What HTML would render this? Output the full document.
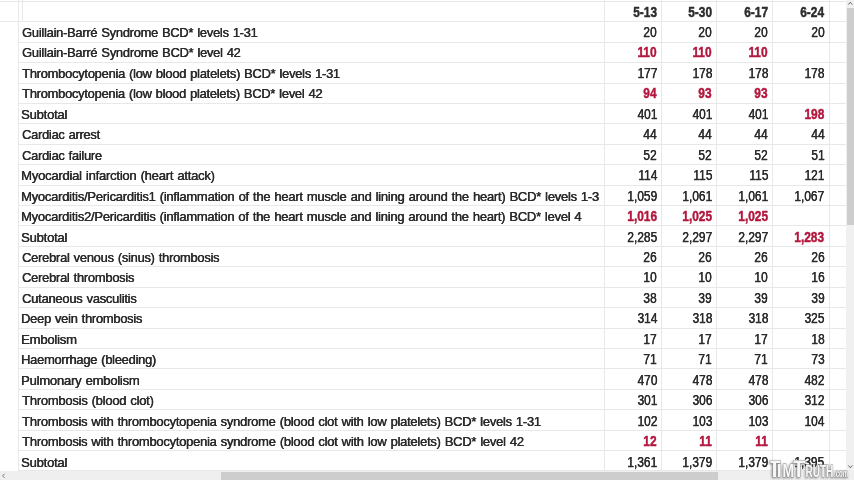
<!DOCTYPE html>
<html><head><meta charset="utf-8"><style>
html,body{margin:0;padding:0;width:854px;height:480px;overflow:hidden;background:#fff;}
body{position:relative;font-family:"Liberation Sans",sans-serif;font-size:14px;color:#2b2b2b;}
.h{position:absolute;left:0;width:854px;height:1px;background:#e8e8e8;}
.v{position:absolute;top:0;height:471px;width:1px;background:#e8e8e8;}
.t,.n{position:absolute;white-space:nowrap;line-height:15px;}
.t{font-size:13px;letter-spacing:-0.26px;word-spacing:0.75px;-webkit-text-stroke:0.2px currentColor;text-shadow:0.3px 0 0 currentColor;}
.n{font-size:14px;-webkit-text-stroke:0.25px currentColor;text-shadow:0.25px 0 0 currentColor;}
.t{transform-origin:0 0;}
.n{transform-origin:100% 0;transform:scaleX(0.85);}
.b{font-weight:bold;-webkit-text-stroke:0.45px currentColor !important;text-shadow:none !important;}
.red{color:#b3173e;}
.vs{position:absolute;left:846px;top:0;width:8px;height:471px;background:#f0f0f0;}
.vt{position:absolute;left:847px;top:8px;width:7px;height:217px;background:#cdcdcd;}
.hs{position:absolute;left:0;top:471px;width:854px;height:9px;background:#efefef;}
.ht{position:absolute;left:221px;top:472px;width:497px;height:8px;background:#cdcdcd;}
.wm{position:absolute;left:770px;top:459px;font-family:"Liberation Sans",sans-serif;font-weight:bold;color:#fff;white-space:nowrap;
 text-shadow:-1px 1px 1px #888, 1px 0 1px #999, 0 -1px 1px #bbb;line-height:20px;}
.arr{position:absolute;font-size:8px;color:#777;line-height:8px;}
</style></head><body>
<div class="h" style="top:1px;background:#e6e6e6;height:1px"></div><div class="h" style="top:21px"></div><div class="h" style="top:42px;left:18px"></div><div class="h" style="top:62px;left:18px"></div><div class="h" style="top:83px;left:18px"></div><div class="h" style="top:103px;left:18px"></div><div class="h" style="top:123px;left:18px"></div><div class="h" style="top:144px;left:18px"></div><div class="h" style="top:164px;left:18px"></div><div class="h" style="top:185px;left:18px"></div><div class="h" style="top:205px;left:18px"></div><div class="h" style="top:225px;left:18px"></div><div class="h" style="top:246px;left:18px"></div><div class="h" style="top:266px;left:18px"></div><div class="h" style="top:287px;left:18px"></div><div class="h" style="top:307px;left:18px"></div><div class="h" style="top:328px;left:18px"></div><div class="h" style="top:348px;left:18px"></div><div class="h" style="top:368px;left:18px"></div><div class="h" style="top:389px;left:18px"></div><div class="h" style="top:409px;left:18px"></div><div class="h" style="top:430px;left:18px"></div><div class="h" style="top:450px;left:18px"></div><div class="h" style="top:470px;left:18px"></div><div class="v" style="left:18px"></div><div class="v" style="left:604px"></div><div class="v" style="left:661px"></div><div class="v" style="left:716px"></div><div class="v" style="left:772px"></div><div class="v" style="left:829px"></div><div class="v" style="left:22px;height:21px"></div><div class="n b" style="right:197.00px;top:4.60px">5-13</div><div class="n b" style="right:142.00px;top:4.60px">5-30</div><div class="n b" style="right:86.00px;top:4.60px">6-17</div><div class="n b" style="right:29.50px;top:4.60px">6-24</div><div class="t" style="left:22.30px;top:24.95px;transform:scaleX(0.9910)">Guillain-Barré Syndrome BCD* levels 1-31</div><div class="n" style="right:197.00px;top:24.95px">20</div><div class="n" style="right:142.00px;top:24.95px">20</div><div class="n" style="right:86.00px;top:24.95px">20</div><div class="n" style="right:29.50px;top:24.95px">20</div><div class="t" style="left:22.30px;top:45.41px;transform:scaleX(0.9919)">Guillain-Barré Syndrome BCD* level 42</div><div class="n b red" style="right:197.00px;top:45.41px">110</div><div class="n b red" style="right:142.00px;top:45.41px">110</div><div class="n b red" style="right:86.00px;top:45.41px">110</div><div class="t" style="left:22.30px;top:65.87px;transform:scaleX(0.9939)">Thrombocytopenia (low blood platelets) BCD* levels 1-31</div><div class="n" style="right:197.00px;top:65.87px">177</div><div class="n" style="right:142.00px;top:65.87px">178</div><div class="n" style="right:86.00px;top:65.87px">178</div><div class="n" style="right:29.50px;top:65.87px">178</div><div class="t" style="left:22.30px;top:86.33px;transform:scaleX(0.9929)">Thrombocytopenia (low blood platelets) BCD* level 42</div><div class="n b red" style="right:197.00px;top:86.33px">94</div><div class="n b red" style="right:142.00px;top:86.33px">93</div><div class="n b red" style="right:86.00px;top:86.33px">93</div><div class="t" style="left:21.29px;top:106.79px;transform:scaleX(1.0078)">Subtotal</div><div class="n" style="right:197.00px;top:106.79px">401</div><div class="n" style="right:142.00px;top:106.79px">401</div><div class="n" style="right:86.00px;top:106.79px">401</div><div class="n b red" style="right:29.50px;top:106.79px">198</div><div class="t" style="left:22.30px;top:127.25px;transform:scaleX(0.9869)">Cardiac arrest</div><div class="n" style="right:197.00px;top:127.25px">44</div><div class="n" style="right:142.00px;top:127.25px">44</div><div class="n" style="right:86.00px;top:127.25px">44</div><div class="n" style="right:29.50px;top:127.25px">44</div><div class="t" style="left:22.30px;top:147.71px;transform:scaleX(0.9883)">Cardiac failure</div><div class="n" style="right:197.00px;top:147.71px">52</div><div class="n" style="right:142.00px;top:147.71px">52</div><div class="n" style="right:86.00px;top:147.71px">52</div><div class="n" style="right:29.50px;top:147.71px">51</div><div class="t" style="left:21.29px;top:168.17px;transform:scaleX(1.0071)">Myocardial infarction (heart attack)</div><div class="n" style="right:197.00px;top:168.17px">114</div><div class="n" style="right:142.00px;top:168.17px">115</div><div class="n" style="right:86.00px;top:168.17px">115</div><div class="n" style="right:29.50px;top:168.17px">121</div><div class="t" style="left:21.30px;top:188.63px;transform:scaleX(1.0008)">Myocarditis/Pericarditis1 (inflammation of the heart muscle and lining around the heart) BCD* levels 1-3</div><div class="n" style="right:197.00px;top:188.63px">1,059</div><div class="n" style="right:142.00px;top:188.63px">1,061</div><div class="n" style="right:86.00px;top:188.63px">1,061</div><div class="n" style="right:29.50px;top:188.63px">1,067</div><div class="t" style="left:21.30px;top:209.09px;transform:scaleX(1.0004)">Myocarditis2/Pericarditis (inflammation of the heart muscle and lining around the heart) BCD* level 4</div><div class="n b red" style="right:197.00px;top:209.09px">1,016</div><div class="n b red" style="right:142.00px;top:209.09px">1,025</div><div class="n b red" style="right:86.00px;top:209.09px">1,025</div><div class="t" style="left:21.29px;top:229.55px;transform:scaleX(1.0078)">Subtotal</div><div class="n" style="right:197.00px;top:229.55px">2,285</div><div class="n" style="right:142.00px;top:229.55px">2,297</div><div class="n" style="right:86.00px;top:229.55px">2,297</div><div class="n b red" style="right:29.50px;top:229.55px">1,283</div><div class="t" style="left:22.30px;top:250.01px;transform:scaleX(0.9930)">Cerebral venous (sinus) thrombosis</div><div class="n" style="right:197.00px;top:250.01px">26</div><div class="n" style="right:142.00px;top:250.01px">26</div><div class="n" style="right:86.00px;top:250.01px">26</div><div class="n" style="right:29.50px;top:250.01px">26</div><div class="t" style="left:22.30px;top:270.47px;transform:scaleX(0.9929)">Cerebral thrombosis</div><div class="n" style="right:197.00px;top:270.47px">10</div><div class="n" style="right:142.00px;top:270.47px">10</div><div class="n" style="right:86.00px;top:270.47px">10</div><div class="n" style="right:29.50px;top:270.47px">16</div><div class="t" style="left:22.30px;top:290.93px;transform:scaleX(0.9965)">Cutaneous vasculitis</div><div class="n" style="right:197.00px;top:290.93px">38</div><div class="n" style="right:142.00px;top:290.93px">39</div><div class="n" style="right:86.00px;top:290.93px">39</div><div class="n" style="right:29.50px;top:290.93px">39</div><div class="t" style="left:21.31px;top:311.39px;transform:scaleX(0.9921)">Deep vein thrombosis</div><div class="n" style="right:197.00px;top:311.39px">314</div><div class="n" style="right:142.00px;top:311.39px">318</div><div class="n" style="right:86.00px;top:311.39px">318</div><div class="n" style="right:29.50px;top:311.39px">325</div><div class="t" style="left:21.29px;top:331.85px;transform:scaleX(1.0111)">Embolism</div><div class="n" style="right:197.00px;top:331.85px">17</div><div class="n" style="right:142.00px;top:331.85px">17</div><div class="n" style="right:86.00px;top:331.85px">17</div><div class="n" style="right:29.50px;top:331.85px">18</div><div class="t" style="left:21.31px;top:352.31px;transform:scaleX(0.9922)">Haemorrhage (bleeding)</div><div class="n" style="right:197.00px;top:352.31px">71</div><div class="n" style="right:142.00px;top:352.31px">71</div><div class="n" style="right:86.00px;top:352.31px">71</div><div class="n" style="right:29.50px;top:352.31px">73</div><div class="t" style="left:21.29px;top:372.77px;transform:scaleX(1.0082)">Pulmonary embolism</div><div class="n" style="right:197.00px;top:372.77px">470</div><div class="n" style="right:142.00px;top:372.77px">478</div><div class="n" style="right:86.00px;top:372.77px">478</div><div class="n" style="right:29.50px;top:372.77px">482</div><div class="t" style="left:22.30px;top:393.23px;transform:scaleX(1.0011)">Thrombosis (blood clot)</div><div class="n" style="right:197.00px;top:393.23px">301</div><div class="n" style="right:142.00px;top:393.23px">306</div><div class="n" style="right:86.00px;top:393.23px">306</div><div class="n" style="right:29.50px;top:393.23px">312</div><div class="t" style="left:22.30px;top:413.69px;transform:scaleX(0.9985)">Thrombosis with thrombocytopenia syndrome (blood clot with low platelets) BCD* levels 1-31</div><div class="n" style="right:197.00px;top:413.69px">102</div><div class="n" style="right:142.00px;top:413.69px">103</div><div class="n" style="right:86.00px;top:413.69px">103</div><div class="n" style="right:29.50px;top:413.69px">104</div><div class="t" style="left:22.30px;top:434.15px;transform:scaleX(0.9987)">Thrombosis with thrombocytopenia syndrome (blood clot with low platelets) BCD* level 42</div><div class="n b red" style="right:197.00px;top:434.15px">12</div><div class="n b red" style="right:142.00px;top:434.15px">11</div><div class="n b red" style="right:86.00px;top:434.15px">11</div><div class="t" style="left:21.29px;top:454.61px;transform:scaleX(1.0078)">Subtotal</div><div class="n" style="right:197.00px;top:454.61px">1,361</div><div class="n" style="right:142.00px;top:454.61px">1,379</div><div class="n" style="right:86.00px;top:454.61px">1,379</div><div class="n" style="right:29.50px;top:454.61px">1,395</div>
<div class="vs"></div><div class="vt"></div>
<div class="hs"></div><div class="ht"></div>
<svg class="wmsvg" width="854" height="480" viewBox="0 0 854 480" style="position:absolute;left:0;top:0">
<defs><filter id="sh" x="-20%" y="-20%" width="140%" height="140%"><feDropShadow dx="-0.8" dy="0.9" stdDeviation="0.9" flood-color="#555" flood-opacity="0.7"/></filter></defs>
<g filter="url(#sh)" fill="#f6f6f6" stroke="#8a8a8a" stroke-width="0.8" paint-order="stroke">
<path d="M770.3 460.5H780.5V463H776V477H773V463H770.3Z"/>
<rect x="778" y="464" width="2.6" height="13"/>
<text x="782.5" y="477" font-family="Liberation Sans" font-weight="bold" font-size="17.8" textLength="11.5" lengthAdjust="spacingAndGlyphs">M</text>
<path d="M793.5 460.5H805.3V463H800.2V477H797.2V463H793.5Z"/>
<text x="805.4" y="477" font-family="Liberation Sans" font-weight="bold" font-size="15.8" textLength="28" lengthAdjust="spacingAndGlyphs">RUTH</text>
<text x="834" y="477" font-family="Liberation Sans" font-weight="bold" font-size="10" textLength="14" lengthAdjust="spacingAndGlyphs">.com</text>
</g>
<path d="M848.3 4.6L850.3 2.2L852.3 4.6" fill="none" stroke="#666" stroke-width="1"/>
<path d="M848.3 465.4L850.3 467.8L852.3 465.4" fill="none" stroke="#666" stroke-width="1"/>
<path d="M4.6 473.8L2.6 475.8L4.6 477.8" fill="none" stroke="#777" stroke-width="1"/>
</svg>
</body></html>
